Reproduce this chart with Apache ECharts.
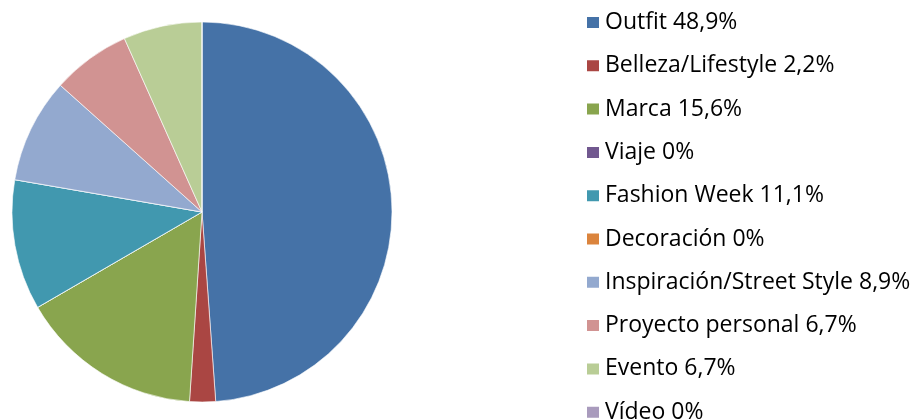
<!DOCTYPE html>
<html>
<head>
<meta charset="utf-8">
<script src="https://cdn.jsdelivr.net/npm/echarts@6/dist/echarts.min.js"></script>
<style>
  html, body { margin: 0; padding: 0; background: #ffffff; }
  #chart { width: 924px; height: 419px; }
</style>
</head>
<body>
<div id="chart"></div>
<script>
// Categories and their shares (percent)
const categories = [
  'Outfit', 'Belleza/Lifestyle', 'Marca', 'Viaje', 'Fashion Week',
  'Decoración', 'Inspiración/Street Style', 'Proyecto personal', 'Evento', 'Vídeo'
];
const shares = [48.9, 2.2, 15.6, 0, 11.1, 0, 8.9, 6.7, 6.7, 0];
const palette = [
  '#4572A7', '#AA4643', '#89A54E', '#71588F', '#4198AF',
  '#DB843D', '#93A9CF', '#D19392', '#B9CD96', '#A99BBD'
];

const data = categories.map((name, i) => ({ name: name, value: shares[i] }));
const shareByName = {};
categories.forEach((c, i) => { shareByName[c] = shares[i]; });

const chart = echarts.init(document.getElementById('chart'), null, { renderer: 'canvas' });
chart.setOption({
  animation: false,
  color: palette,
  legend: {
    orient: 'vertical',
    left: 585,
    top: 11,
    height: 600,
    padding: 0,
    itemWidth: 14,
    itemHeight: 13,
    itemGap: 20.3,
    icon: 'rect',
    selectedMode: false,
    textStyle: {
      fontFamily: 'Open Sans',
      fontSize: 23,
      lineHeight: 23,
      color: '#000000'
    },
    formatter: function (name) {
      return name + ' ' + String(shareByName[name]).replace('.', ',') + '%';
    },
    data: categories
  },
  series: [{
    type: 'pie',
    center: [202, 212],
    radius: [0, 190],
    startAngle: 90,
    clockwise: true,
    label: { show: false },
    labelLine: { show: false },
    emphasis: { disabled: true },
    itemStyle: { borderColor: '#ffffff', borderWidth: 0.6 },
    data: data
  }]
});
</script>
</body>
</html>
